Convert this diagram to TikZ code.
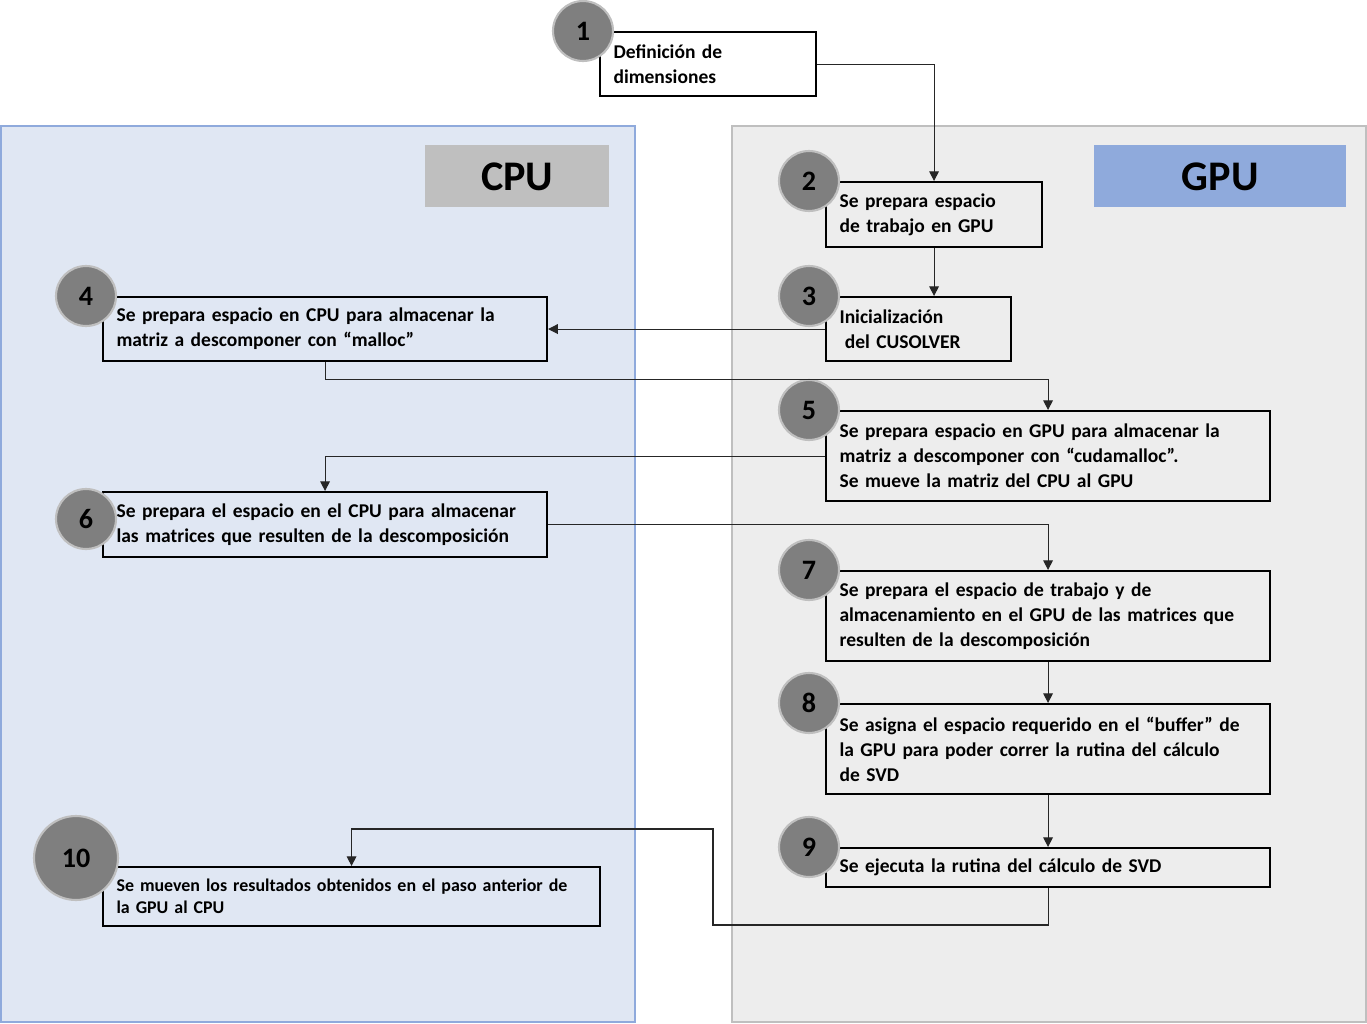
\documentclass[tikz,border=0pt]{standalone}
\usepackage{fontspec}
\setmainfont{Carlito}
\usetikzlibrary{arrows.meta}

\definecolor{cpubg}{HTML}{E0E7F3}
\definecolor{cpuline}{HTML}{8FAADC}
\definecolor{gpubg}{HTML}{EDEDED}
\definecolor{gpuline}{HTML}{BFBFBF}
\definecolor{numgray}{HTML}{7F7F7F}

\tikzset{
	stepbox/.style={draw=black, line width=1.2pt, fill=none, anchor=north west,
		inner xsep=7.5pt, align=left, font=\bfseries\fontsize{11.1}{14.2}\selectfont},
	numcirc/.style={circle, fill=numgray, draw=gpuline, line width=1.2pt,
		minimum size=1.2cm, inner sep=0pt, font=\bfseries\fontsize{16}{18}\selectfont},
	sidelabel/.style={anchor=north west, inner sep=0pt, font=\bfseries\fontsize{24}{28}\selectfont},
	conn/.style={draw=black!85, line width=0.6pt, -{Triangle[length=5.5pt,width=5.5pt]}}
}

\newcommand{\stepnum}[4]{   % name, x, y, number
	\node[numcirc] (#1) at (#2, #3) {#4};
}

\begin{document}
\begin{tikzpicture}[x=0.02cm, y=-0.02cm]
\useasboundingbox (0,0) rectangle (1367,1024);

% panels
\filldraw[fill=cpubg, draw=cpuline, line width=1.2pt] (1,126) rectangle (635,1022);
\filldraw[fill=gpubg, draw=gpuline, line width=1.2pt] (732,126) rectangle (1366,1022);
\node[sidelabel, fill=gpuline, minimum width=184*0.02cm, minimum height=62*0.02cm] (cpu) at (425,145) {CPU};
\node[sidelabel, fill=cpuline, minimum width=252*0.02cm, minimum height=62*0.02cm] (gpu) at (1094,145) {GPU};

% steps
\node[stepbox, minimum width=216*0.02cm, minimum height=64*0.02cm, text width=189*0.02cm] (b1) at (599,31)
	{Definición de\\dimensiones};
\node[stepbox, minimum width=216*0.02cm, minimum height=65*0.02cm, text width=189*0.02cm] (b2) at (825,181)
	{Se prepara espacio\\de trabajo en GPU};
\node[stepbox, minimum width=185*0.02cm, minimum height=64*0.02cm, text width=158*0.02cm] (b3) at (825,296)
	{Inicialización\\\hspace*{3pt}del CUSOLVER};
\node[stepbox, minimum width=444*0.02cm, minimum height=64*0.02cm, text width=417*0.02cm] (b4) at (102,296)
	{Se prepara espacio en CPU para almacenar la\\matriz a descomponer con “malloc”};
\node[stepbox, minimum width=444*0.02cm, minimum height=90*0.02cm, text width=417*0.02cm] (b5) at (825,410)
	{Se prepara espacio en GPU para almacenar la\\matriz a descomponer con “cudamalloc”.\\Se mueve la matriz del CPU al GPU};
\node[stepbox, minimum width=444*0.02cm, minimum height=65*0.02cm, text width=417*0.02cm] (b6) at (102,491)
	{Se prepara el espacio en el CPU para almacenar\\las matrices que resulten de la descomposición};
\node[stepbox, minimum width=444*0.02cm, minimum height=90*0.02cm, text width=417*0.02cm] (b7) at (825,570)
	{Se prepara el espacio de trabajo y de\\almacenamiento en el GPU de las matrices que\\resulten de la descomposición};
\node[stepbox, minimum width=444*0.02cm, minimum height=90*0.02cm, text width=417*0.02cm] (b8) at (825,703)
	{Se asigna el espacio requerido en el “buffer” de\\la GPU para poder correr la rutina del cálculo\\de SVD};
\node[stepbox, minimum width=444*0.02cm, minimum height=39*0.02cm, text width=417*0.02cm] (b9) at (825,847)
	{Se ejecuta la rutina del cálculo de SVD};
\node[stepbox, font=\bfseries\fontsize{10.2}{12.5}\selectfont, minimum width=497*0.02cm, minimum height=59*0.02cm, text width=470*0.02cm] (b10) at (102,866)
	{Se mueven los resultados obtenidos en el paso anterior de\\la GPU al CPU};

% numbers
\stepnum{n1}{583}{31}{1}
\stepnum{n2}{809}{181}{2}
\stepnum{n3}{809}{296}{3}
\stepnum{n4}{86}{296}{4}
\stepnum{n5}{809}{410}{5}
\stepnum{n6}{86}{519}{6}
\stepnum{n7}{809}{570}{7}
\stepnum{n8}{809}{703}{8}
\stepnum{n9}{809}{847}{9}
\node[numcirc, minimum size=1.68cm] (n10) at (76,858) {10};

% connectors
\coordinate (turn9) at (713,925);
\coordinate (turn10) at (713,829);
\draw[conn] (b1.east) -| (b2.north);
\draw[conn] (b2.south) -- (b2.south |- b3.north);
\draw[conn] (b3.west) -- (b3.west -| b4.east);
\draw[conn] (b4.south) -- ++(0,17) -| (b5.north);
\draw[conn] (b5.west) -| (b6.north);
\draw[conn] (b6.east) -| (b7.north);
\draw[conn] (b7.south) -- (b8.north);
\draw[conn] (b8.south) -- (b9.north);
\draw[conn] (b9.south) |- (turn9) -- (turn10) -| (b10.north);
\end{tikzpicture}
\end{document}
